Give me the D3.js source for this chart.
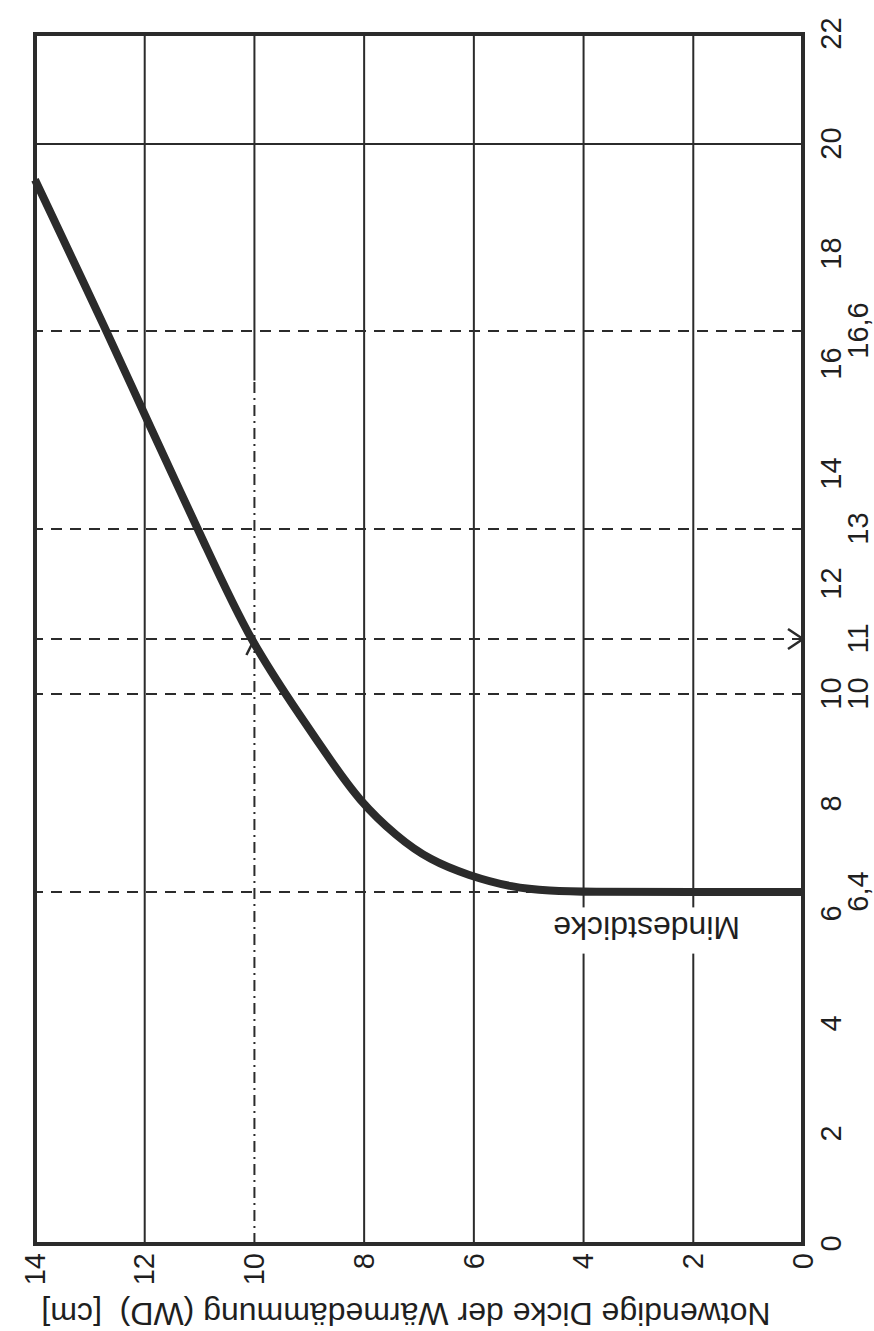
<!DOCTYPE html>
<html lang="de">
<head>
<meta charset="UTF-8">
<title>Notwendige Dicke der Wärmedämmung</title>
<script src="https://cdn.jsdelivr.net/npm/d3@7"></script>
<style>
  body { margin: 0; background: #fff; }
  text { font-family: "Liberation Sans", Arial, sans-serif; fill: #1f1f1f; }
  .frame { fill: none; stroke: #2b2b2b; stroke-width: 4px; }
  .grid { stroke: #2b2b2b; stroke-width: 2px; }
  .guide { stroke: #2b2b2b; stroke-width: 2px; stroke-dasharray: 11,8; }
  .guide-dot { stroke: #2b2b2b; stroke-width: 2px; stroke-dasharray: 11,5,2,5; }
  .curve { fill: none; stroke: #2b2b2b; stroke-width: 8px; stroke-linejoin: round; }
  .arrow { fill: none; stroke: #2b2b2b; stroke-width: 2.5px; }
</style>
</head>
<body>
<script>
// chart is drawn upright and then turned a quarter turn to the left, like the scan

// horizontal variable of the upright chart
var xTicks = [0, 2, 4, 6, 8, 10, 12, 14, 16, 18, 20, 22];
var xGrid = [20];
var xMarks = [6.4, 10, 11, 13, 16.6];

// thickness in cm
var yTicks = [0, 2, 4, 6, 8, 10, 12, 14];
var yGrid = [2, 4, 6, 8, 12];

// reading example: 10 cm -> 11
var readY = 10;
var readX = 11;
var readSolidFrom = 15.7;   // the 10 cm line is solid above this x

// curve
var curveY = [0, 2.0, 4.0, 4.6, 5.3, 6.1, 6.8, 7.4, 8.1, 8.6, 9.1, 10.1, 10.8, 12.0, 12.6, 14.0, 14.0];
var curveX = [6.4, 6.4, 6.4, 6.42, 6.48, 6.7, 6.98, 7.4, 8.07, 8.78, 9.5, 11.0, 12.5, 15.07, 16.4, 19.35, 19.35];

var minLabel = "Mindestdicke";
var minLabelX = 5.75, minLabelY = 2.85;
var yTitle = "Notwendige Dicke der Wärmedämmung (WD)\u00a0\u00a0[cm]";

var W = 874, H = 1331;
var w = 1210, h = 768;

var svg = d3.select("body").append("svg")
  .attr("width", W)
  .attr("height", H);

var g = svg.append("g")
  .attr("transform", "translate(35,1244) rotate(-90)");

var x = d3.scaleLinear().domain([0, 22]).range([0, w]);
var y = d3.scaleLinear().domain([0, 14]).range([h, 0]);

var comma = function(d) { return String(d).replace(".", ","); };

// solid grid
g.selectAll(".ygrid")
  .data(yGrid)
  .enter().append("line")
  .attr("class", "grid")
  .attr("x1", x(0)).attr("x2", x(22))
  .attr("y1", function(d) { return y(d); })
  .attr("y2", function(d) { return y(d); });

g.selectAll(".xgrid")
  .data(xGrid)
  .enter().append("line")
  .attr("class", "grid")
  .attr("x1", function(d) { return x(d); })
  .attr("x2", function(d) { return x(d); })
  .attr("y1", y(0)).attr("y2", y(14));

// 10 cm line: solid at the top, dash-dot down to the axis
g.append("line")
  .attr("class", "grid")
  .attr("x1", x(readSolidFrom)).attr("x2", x(22))
  .attr("y1", y(readY)).attr("y2", y(readY));

g.append("line")
  .attr("class", "guide-dot")
  .attr("x1", x(0)).attr("x2", x(readSolidFrom))
  .attr("y1", y(readY)).attr("y2", y(readY));

// dashed marks
g.selectAll(".mark")
  .data(xMarks)
  .enter().append("line")
  .attr("class", "guide")
  .attr("x1", function(d) { return x(d); })
  .attr("x2", function(d) { return x(d); })
  .attr("y1", y(0)).attr("y2", y(14));

// Mindestdicke label with white ground
g.append("rect")
  .attr("x", x(5.28))
  .attr("width", x(6.12) - x(5.28))
  .attr("y", y(4.8))
  .attr("height", y(0.9) - y(4.8))
  .attr("fill", "#fff");

g.append("text")
  .attr("transform", "translate(" + x(minLabelX) + "," + y(minLabelY) + ") rotate(-90)")
  .attr("text-anchor", "middle")
  .attr("dy", "0.35em")
  .attr("font-size", 32)
  .text(minLabel);

// curve
var pts = curveX.map(function(d, i) { return [d, curveY[i]]; });

var line = d3.line()
  .x(function(d) { return x(d[0]); })
  .y(function(d) { return y(d[1]); })
  .curve(d3.curveBasis);

g.append("path")
  .datum(pts)
  .attr("class", "curve")
  .attr("d", line);

// arrow heads of the reading example
var ax = x(readX), ay = y(0);
g.append("path")
  .attr("class", "arrow")
  .attr("d", "M" + (ax - 10) + "," + (ay - 15) + "L" + ax + "," + ay + "L" + (ax + 10) + "," + (ay - 15));

var bx = x(readX), by = y(readY);
g.append("path")
  .attr("class", "arrow")
  .attr("d", "M" + (bx - 16) + "," + (by - 8) + "L" + bx + "," + by + "L" + (bx - 16) + "," + (by + 8));

// frame
g.append("rect")
  .attr("class", "frame")
  .attr("x", x(0))
  .attr("y", y(14))
  .attr("width", x(22) - x(0))
  .attr("height", y(0) - y(14));

// axes (labels only)
var xAxis = d3.axisBottom(x).tickValues(xTicks).tickSize(0).tickPadding(17);
var xAxis2 = d3.axisBottom(x).tickValues(xMarks).tickFormat(comma).tickSize(0).tickPadding(44);
var yAxis = d3.axisLeft(y).tickValues(yTicks).tickSize(0).tickPadding(9);

[xAxis, xAxis2].forEach(function(ax) {
  g.append("g")
    .attr("transform", "translate(0," + h + ")")
    .call(ax)
    .call(function(s) { s.select(".domain").remove(); })
    .selectAll("text").attr("font-size", 29);
});

g.append("g")
  .call(yAxis)
  .call(function(s) { s.select(".domain").remove(); })
  .selectAll("text").attr("font-size", 29);

g.selectAll(".tick text").attr("font-family", null);

// axis title
g.append("text")
  .attr("transform", "translate(-70," + (h / 2 - 13) + ") rotate(-90)")
  .attr("text-anchor", "middle")
  .attr("dy", "0.35em")
  .attr("font-size", 32)
  .text(yTitle);
</script>
</body>
</html>
